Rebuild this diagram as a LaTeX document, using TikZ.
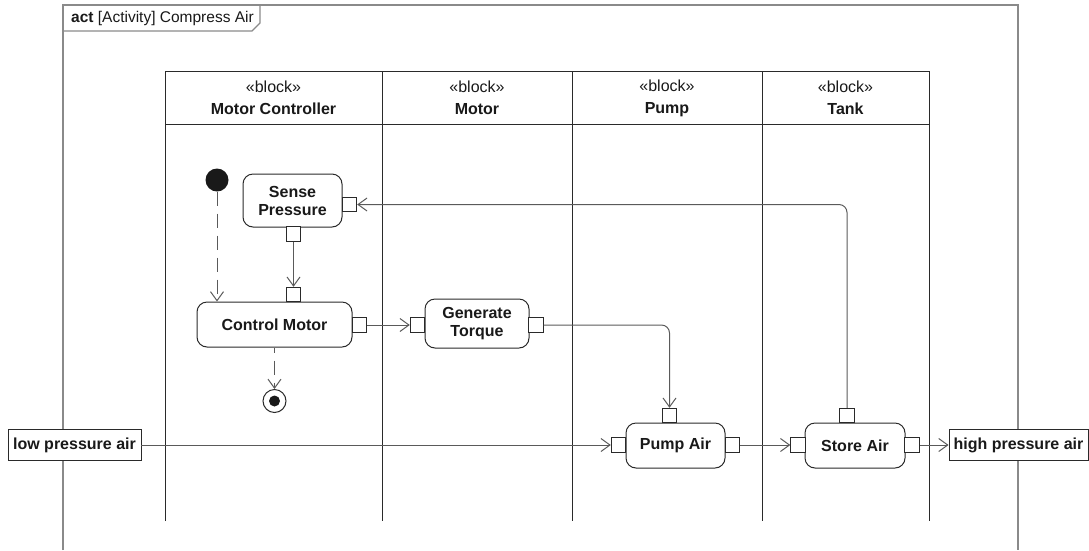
\documentclass[tikz,border=0pt]{standalone}
\usepackage{fontspec}
\setmainfont{Liberation Sans}
\usepackage{tikz}
\usetikzlibrary{arrows.meta,positioning,calc}
\usepackage{xcolor}
\definecolor{fgray}{HTML}{8A8A8A}
\definecolor{flink}{HTML}{5A5A5A}
\definecolor{fline}{HTML}{2A2A2A}

\tikzset{
  action/.style={draw=fline,line width=1pt,rounded corners=10pt,fill=white,align=center,font=\fontsize{16}{18}\selectfont\bfseries,inner sep=0pt},
  pinbox/.style={draw=fline,line width=0.9pt,fill=white,minimum size=14.5pt,inner sep=0pt},
  objbox/.style={draw=fline,line width=0.9pt,fill=white,font=\fontsize{16}{18}\selectfont\bfseries,inner sep=0pt,minimum height=31pt},
  flow/.style={draw=flink,line width=1pt,-{Straight Barb[length=9pt,width=13pt]}},
  ctrlflow/.style={flow,dash pattern=on 14pt off 8pt},
  lane/.style={draw=fline,line width=1pt},
  frame/.style={draw=fgray,line width=1.3pt},
  lanehead/.style={align=center,font=\fontsize{16}{22}\selectfont}
}

\begin{document}
\begin{tikzpicture}[x=1pt,y=-1pt,font=\fontsize{16}{18}\selectfont,text=black!90]
\useasboundingbox (0,0) rectangle (1089,550);
% diagram frame
\draw[frame] (63,550) -- (63,5) -- (1018,5) -- (1018,550);
\draw[frame] (63,31) -- (252,31) -- (260,23) -- (260,5);
\node[anchor=west,inner sep=0pt,font=\fontsize{15.5}{18}\selectfont] (title) at (71,18) {\textbf{act} [Activity] Compress Air};
% swimlanes
\draw[lane] (165,521) -- (165,71) -- (929,71) -- (929,521);
\draw[lane] (165,124) -- (929,124);
\draw[lane] (382,71) -- (382,521);
\draw[lane] (572,71) -- (572,521);
\draw[lane] (762,71) -- (762,521);
\node[lanehead] (laneMC) at (273.5,98) {«block»\\\textbf{Motor Controller}};
\node[lanehead] (laneMo) at (477,98) {«block»\\\textbf{Motor}};
\node[lanehead] (lanePu) at (667,98) {«block»\\\textbf{Pump}};
\node[lanehead] (laneTa) at (845.5,98) {«block»\\\textbf{Tank}};
% actions
\node[action,minimum width=99pt,minimum height=53pt] (sp) at (292.5,200.5) {Sense\\Pressure};
\node[action,minimum width=155pt,minimum height=45pt] (cm) at (274.5,324.5) {Control Motor};
\node[action,minimum width=104pt,minimum height=49pt] (gt) at (477,323.5) {Generate\\Torque};
\node[action,minimum width=99pt,minimum height=45pt] (pa) at (675.5,445.5) {Pump Air};
\node[action,minimum width=100pt,minimum height=45pt] (sa) at (855,445.5) {Store Air};
% pins
\node[pinbox] (spOut) at (349.5,204.5) {};
\node[pinbox] (spBot) at (293.5,234) {};
\node[pinbox] (cmTop) at (293.5,294.5) {};
\node[pinbox] (cmOut) at (359.5,325) {};
\node[pinbox] (gtIn) at (417.5,325) {};
\node[pinbox] (gtOut) at (536,325) {};
\node[pinbox] (paTop) at (669.5,415.5) {};
\node[pinbox] (paIn) at (618.5,445) {};
\node[pinbox] (paOut) at (732.5,445) {};
\node[pinbox] (saTop) at (847,415.5) {};
\node[pinbox] (saIn) at (798,445) {};
\node[pinbox] (saOut) at (912,445) {};
% control nodes
\node[circle,fill=black!90,minimum size=23pt,inner sep=0pt] (init) at (217,180) {};
\node[circle,draw=fline,line width=1pt,minimum size=23pt,inner sep=0pt] (final) at (274.5,401) {};
\node[circle,fill=black!90,minimum size=11pt,inner sep=0pt] (finalDot) at (final) {};
% object nodes
\node[objbox,minimum width=133pt] (lpa) at (74.5,445) {low pressure air};
\node[objbox,minimum width=139pt] (hpa) at (1018.5,445) {high pressure air};
% flows
\draw[ctrlflow] (init) -- (init |- cm.north);
\draw[ctrlflow,dash phase=9pt] (cm.south -| final) -- (final);
\draw[flow] (spBot) -- (cmTop);
\draw[flow] (cmOut) -- (gtIn);
\draw[flow,rounded corners=8pt] (gtOut) -| (paTop);
\draw[flow] (lpa) -- (paIn);
\draw[flow] (paOut) -- (saIn);
\draw[flow] (saOut) -- (hpa);
\draw[flow,rounded corners=8pt] (saTop) |- (spOut);
\end{tikzpicture}
\end{document}
